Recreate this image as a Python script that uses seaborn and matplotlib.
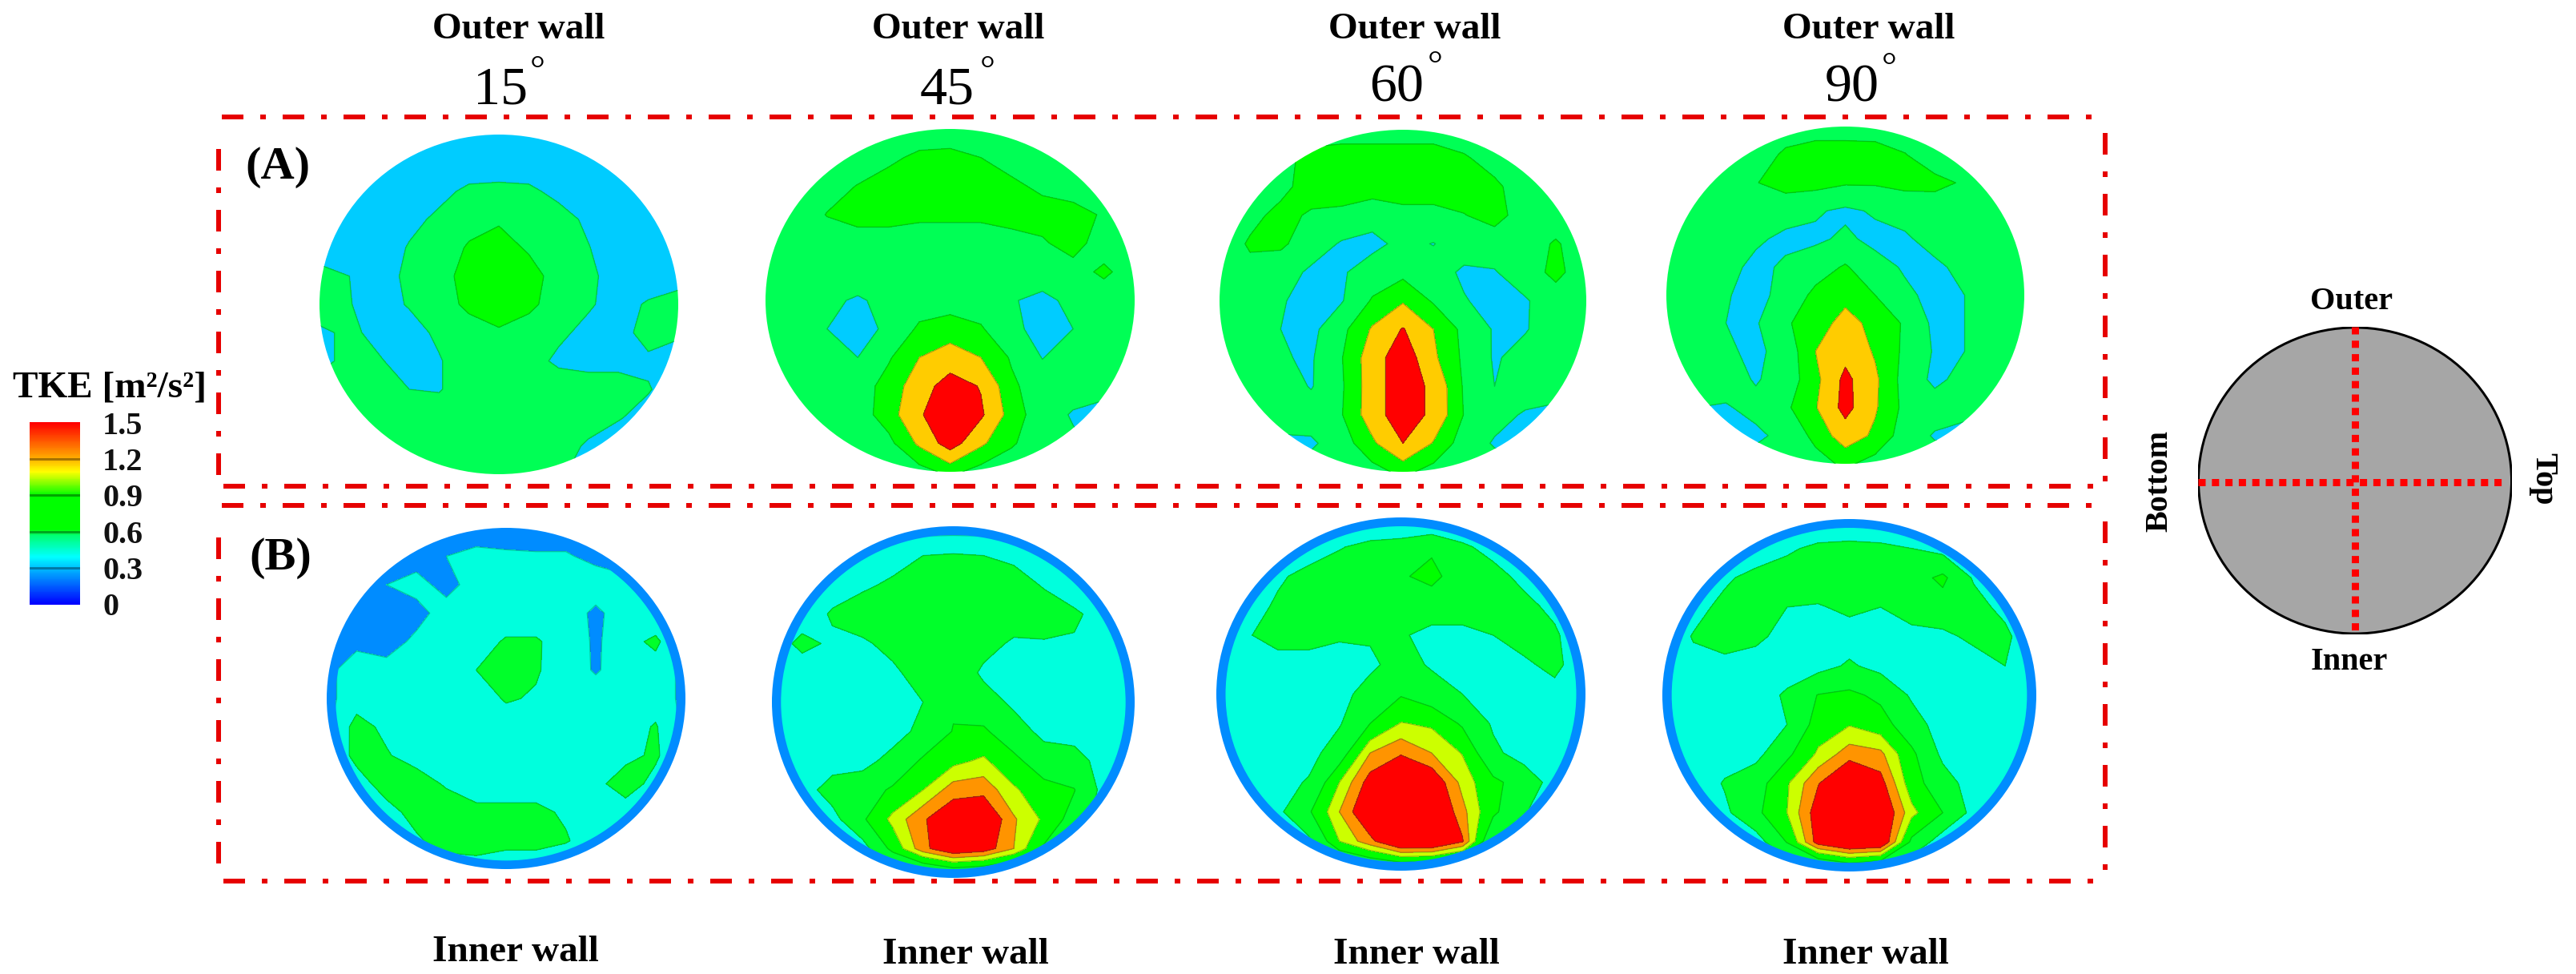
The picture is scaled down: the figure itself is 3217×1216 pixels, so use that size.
import numpy as np
import matplotlib
matplotlib.use("Agg")
import matplotlib.pyplot as plt
from matplotlib.colors import LinearSegmentedColormap
from matplotlib.patches import Ellipse
import seaborn as sns

W, H = 3217, 1216
sns.set_theme(style="white")
plt.rcParams["font.family"] = ["Liberation Serif", "DejaVu Serif"]
plt.rcParams["lines.scale_dashes"] = False

# ---------- data: TKE on a 13x13 grid (top row = top of the section) ----------
A_15 = [
 [.3,.3,.3,.3,.3,.3,.3,.3,.3,.3,.3,.3,.3],
 [.3,.3,.3,.3,.3,.3,.3,.3,.3,.3,.3,.3,.3],
 [.3,.3,.3,.3,.38,.5,.52,.5,.38,.3,.3,.3,.3],
 [.3,.3,.3,.38,.5,.65,.72,.65,.55,.4,.3,.3,.3],
 [.3,.3,.3,.47,.6,.78,.85,.72,.6,.46,.3,.3,.3],
 [.55,.45,.35,.5,.65,.85,.9,.85,.65,.5,.35,.3,.3],
 [.6,.46,.35,.47,.65,.8,.88,.8,.65,.48,.35,.48,.6],
 [.4,.5,.38,.35,.5,.65,.72,.65,.5,.38,.35,.55,.5],
 [.35,.55,.47,.35,.43,.6,.65,.55,.4,.35,.35,.4,.3],
 [.6,.6,.6,.45,.43,.6,.65,.6,.6,.6,.6,.47,.3],
 [.6,.6,.6,.6,.6,.6,.6,.6,.6,.6,.47,.35,.3],
 [.6,.6,.6,.6,.6,.6,.6,.6,.6,.4,.3,.3,.3],
 [.6,.6,.6,.6,.6,.6,.6,.6,.5,.3,.3,.3,.3],
]
A_45 = [
 [.6,.6,.6,.6,.6,.6,.6,.6,.6,.6,.6,.6,.6],
 [.6,.6,.6,.6,.7,.8,.82,.75,.65,.6,.6,.6,.6],
 [.6,.6,.65,.76,.85,.9,.9,.88,.8,.7,.62,.6,.6],
 [.6,.6,.76,.85,.85,.8,.8,.8,.85,.85,.85,.72,.6],
 [.6,.6,.62,.62,.62,.62,.62,.62,.65,.72,.85,.62,.6],
 [.6,.6,.6,.6,.6,.6,.6,.6,.6,.6,.65,.8,.62],
 [.6,.6,.5,.42,.52,.6,.62,.6,.47,.38,.52,.6,.6],
 [.6,.6,.45,.35,.5,.8,.88,.78,.52,.35,.45,.6,.6],
 [.6,.6,.55,.45,.72,1.0,1.12,1.0,.72,.44,.6,.6,.6],
 [.6,.6,.6,.62,.85,1.15,1.45,1.28,.8,.6,.6,.55,.5],
 [.6,.6,.6,.63,.87,1.27,1.5,1.35,.88,.6,.42,.35,.35],
 [.6,.6,.6,.6,.68,1.05,1.45,1.05,.78,.6,.5,.4,.4],
 [.6,.6,.6,.6,.6,.65,.82,.65,.6,.6,.6,.6,.6],
]
A_60 = [
 [.6,.6,.6,.6,.6,.6,.6,.6,.6,.6,.6,.6,.6],
 [.6,.6,.65,.85,.9,.9,.9,.9,.78,.65,.6,.6,.6],
 [.6,.6,.68,.86,.9,.9,.9,.9,.88,.8,.62,.6,.6],
 [.6,.68,.82,.72,.68,.55,.66,.66,.74,.85,.62,.6,.6],
 [.6,.78,.8,.6,.42,.38,.52,.44,.6,.6,.62,.78,.6],
 [.6,.68,.58,.4,.42,.58,.68,.58,.4,.43,.62,.82,.6],
 [.6,.6,.47,.37,.43,.78,.97,.72,.47,.35,.42,.62,.6],
 [.6,.6,.45,.37,.68,1.03,1.32,1.0,.68,.42,.43,.6,.6],
 [.6,.6,.47,.42,.74,1.15,1.5,1.05,.7,.42,.55,.6,.6],
 [.6,.6,.6,.43,.72,1.15,1.5,1.22,.72,.45,.6,.6,.6],
 [.6,.6,.6,.6,.74,1.15,1.5,1.22,.74,.55,.42,.35,.35],
 [.5,.4,.38,.4,.62,.95,1.3,.98,.62,.42,.35,.35,.35],
 [.6,.6,.6,.6,.6,.65,.82,.65,.6,.6,.6,.6,.6],
]
A_90 = [
 [.6,.6,.6,.6,.6,.6,.6,.6,.6,.6,.6,.6,.6],
 [.6,.6,.6,.6,.8,.9,.9,.88,.76,.6,.6,.6,.6],
 [.6,.6,.62,.74,.85,.85,.78,.78,.82,.82,.72,.6,.6],
 [.6,.6,.6,.6,.58,.48,.4,.48,.58,.6,.62,.6,.6],
 [.6,.6,.6,.5,.38,.4,.5,.38,.4,.58,.6,.6,.6],
 [.6,.6,.55,.37,.5,.62,.78,.55,.42,.38,.55,.6,.6],
 [.6,.6,.47,.36,.55,.82,.92,.75,.5,.38,.45,.6,.6],
 [.6,.6,.45,.42,.72,.87,1.1,.92,.72,.38,.45,.6,.6],
 [.6,.6,.5,.38,.58,1.0,1.2,.97,.7,.42,.45,.6,.6],
 [.6,.6,.6,.42,.6,.92,1.38,1.05,.65,.38,.55,.6,.6],
 [.5,.45,.42,.55,.7,.98,1.4,1.03,.68,.6,.5,.45,.45],
 [.4,.4,.38,.38,.55,.82,1.15,.95,.62,.42,.4,.4,.4],
 [.6,.6,.6,.6,.6,.65,.8,.65,.6,.6,.6,.6,.6],
]
B_15 = [
 [.2,.2,.2,.2,.2,.2,.2,.2,.2,.2,.2,.2,.2],
 [.2,.2,.2,.2,.3,.35,.33,.32,.32,.25,.2,.2,.2],
 [.2,.2,.3,.38,.22,.4,.4,.4,.4,.4,.36,.25,.2],
 [.2,.2,.2,.22,.4,.4,.4,.4,.4,.26,.4,.32,.2],
 [.2,.25,.2,.35,.42,.42,.52,.52,.42,.27,.42,.55,.25],
 [.25,.4,.38,.4,.4,.5,.7,.52,.4,.28,.4,.4,.25],
 [.25,.4,.4,.4,.4,.4,.52,.48,.4,.4,.4,.4,.25],
 [.25,.58,.45,.4,.4,.4,.4,.4,.4,.4,.4,.52,.25],
 [.2,.6,.52,.4,.4,.4,.4,.4,.4,.4,.42,.55,.2],
 [.2,.35,.65,.62,.47,.4,.4,.4,.4,.42,.65,.4,.2],
 [.2,.22,.38,.62,.65,.55,.55,.55,.47,.4,.35,.25,.2],
 [.2,.2,.28,.45,.65,.7,.6,.6,.52,.38,.25,.2,.2],
 [.2,.2,.2,.25,.3,.32,.3,.3,.3,.2,.2,.2,.2],
]
B_45 = [
 [.2,.2,.2,.2,.2,.2,.2,.2,.2,.2,.2,.2,.2],
 [.2,.2,.25,.3,.38,.5,.52,.5,.45,.3,.25,.2,.2],
 [.25,.35,.42,.45,.55,.65,.65,.65,.6,.48,.32,.25,.2],
 [.35,.4,.52,.65,.65,.65,.65,.65,.65,.62,.55,.38,.25],
 [.4,.55,.47,.46,.58,.65,.65,.6,.46,.48,.47,.5,.25],
 [.38,.4,.4,.4,.45,.62,.7,.45,.4,.4,.4,.47,.3],
 [.38,.4,.4,.4,.4,.5,.72,.62,.45,.4,.4,.42,.3],
 [.38,.4,.4,.4,.4,.57,.76,.78,.62,.43,.42,.48,.3],
 [.38,.4,.4,.42,.58,.78,.9,.98,.8,.63,.58,.42,.28],
 [.3,.4,.6,.65,.78,.95,1.18,1.2,.98,.82,.76,.42,.25],
 [.25,.35,.42,.72,1.0,1.23,1.4,1.45,1.12,.92,.65,.38,.25],
 [.2,.2,.25,.4,.82,1.2,1.42,1.35,1.1,.72,.35,.2,.2],
 [.2,.2,.2,.2,.25,.3,.4,.35,.3,.25,.2,.2,.2],
]
B_60 = [
 [.2,.2,.2,.2,.2,.2,.2,.2,.2,.2,.2,.2,.2],
 [.2,.2,.25,.33,.48,.58,.62,.72,.55,.4,.3,.2,.2],
 [.2,.28,.45,.6,.65,.65,.73,.8,.65,.6,.42,.25,.2],
 [.25,.35,.55,.65,.65,.65,.65,.65,.65,.65,.58,.42,.2],
 [.3,.48,.6,.6,.53,.53,.53,.42,.42,.5,.62,.55,.25],
 [.3,.4,.4,.4,.4,.45,.6,.47,.4,.4,.45,.58,.3],
 [.3,.4,.4,.4,.42,.6,.73,.62,.5,.4,.4,.4,.3],
 [.3,.4,.4,.4,.48,.75,.96,.92,.72,.47,.4,.4,.3],
 [.3,.4,.4,.42,.62,1.1,1.23,1.1,.94,.55,.4,.4,.3],
 [.3,.35,.42,.52,.95,1.33,1.5,1.4,1.05,.8,.65,.4,.25],
 [.25,.3,.45,.72,1.1,1.45,1.5,1.5,1.15,.8,.52,.35,.25],
 [.2,.2,.3,.45,.95,1.2,1.5,1.5,1.27,.5,.3,.2,.2],
 [.2,.2,.2,.25,.3,.4,.45,.4,.3,.25,.2,.2,.2],
]
B_90 = [
 [.2,.2,.2,.2,.2,.2,.2,.2,.2,.2,.2,.2,.2],
 [.2,.2,.25,.3,.45,.57,.6,.57,.5,.42,.25,.2,.2],
 [.2,.3,.45,.6,.65,.65,.65,.65,.65,.8,.47,.3,.2],
 [.25,.4,.58,.65,.5,.48,.55,.5,.62,.65,.6,.42,.2],
 [.3,.52,.65,.55,.42,.4,.4,.4,.42,.45,.55,.57,.25],
 [.3,.42,.4,.4,.4,.42,.53,.43,.4,.4,.4,.5,.3],
 [.3,.4,.4,.4,.53,.76,.8,.7,.47,.4,.4,.4,.3],
 [.3,.4,.4,.4,.5,.85,.94,.85,.6,.4,.4,.4,.3],
 [.3,.4,.4,.43,.7,.98,1.18,1.14,.8,.45,.4,.4,.3],
 [.3,.35,.52,.65,.93,1.24,1.5,1.32,.85,.6,.4,.3,.25],
 [.25,.3,.45,.7,.95,1.35,1.5,1.45,1.0,.75,.42,.3,.25],
 [.2,.2,.25,.38,.76,1.33,1.5,1.45,.7,.36,.25,.2,.2],
 [.2,.2,.2,.22,.25,.3,.45,.35,.25,.2,.2,.2,.2],
]
angles = ["15", "45", "60", "90"]
tick_values = [1.5, 1.2, 0.9, 0.6, 0.3, 0]
tick_labels = ["1.5", "1.2", "0.9", "0.6", "0.3", "0"]

# ---------- styling / layout (pixels of the 3217x1216 canvas) ----------
A_LEVELS = [0, .45, .75, 1.0, 1.3, 3]
A_COLORS = ["#00CCFF", "#00FF55", "#00FF00", "#FFCC00", "#FF0000"]
B_LEVELS = [0, .3, .5, .75, .95, 1.1, 1.25, 3]
B_COLORS = ["#008CFF", "#00FFDD", "#00FF2A", "#00FF00", "#CCFF00", "#FF9400", "#FF0000"]
A_BOXES = [(399, 847, 168, 592), (956, 1417, 161, 589), (1523, 1981, 162, 589), (2081, 2528, 158, 579)]
B_BOXES = [(408, 856, 659, 1085), (964, 1417, 657, 1096), (1519, 1980, 646, 1087), (2076, 2543, 648, 1088)]
RING = 0.95
PX = 0.72  # points per pixel at dpi 100

fig = plt.figure(figsize=(W / 100, H / 100), dpi=100, facecolor="white")
over = fig.add_axes([0, 0, 1, 1], zorder=5)
over.set_xlim(0, W)
over.set_ylim(H, 0)
over.axis("off")
over.patch.set_alpha(0)


def panel(box, grid, levels, colors, ring=False):
    x0, x1, y0, y1 = box
    ax = fig.add_axes([x0 / W, 1 - y1 / H, (x1 - x0) / W, (y1 - y0) / H])
    ax.set_xlim(-1, 1)
    ax.set_ylim(-1, 1)
    ax.axis("off")
    z = np.array(grid, dtype=float)
    xs = np.linspace(-1, 1, z.shape[1])
    ys = np.linspace(1, -1, z.shape[0])
    scale = 1.0
    if ring:
        ax.add_patch(Ellipse((0, 0), 2, 2, fc=colors[0], ec="none"))
        scale = RING
    clip = Ellipse((0, 0), 2 * scale, 2 * scale, transform=ax.transData, fc="none", ec="none")
    ax.add_patch(clip)
    cf = ax.contourf(xs, ys, z, levels=levels, colors=colors)
    cf.set_clip_path(clip)
    cl = ax.contour(xs, ys, z, levels=levels[1:-1], colors="#006030", linewidths=1.0, alpha=0.35)
    cl.set_clip_path(clip)
    return ax


for box, grid in zip(A_BOXES, [A_15, A_45, A_60, A_90]):
    panel(box, grid, A_LEVELS, A_COLORS)
for box, grid in zip(B_BOXES, [B_15, B_45, B_60, B_90]):
    panel(box, grid, B_LEVELS, B_COLORS, ring=True)

# dash-dot frames
frame_style = dict(color="#E60000", lw=6 * PX, ls=(0, (27 * PX, 21 * PX, 7 * PX, 21 * PX)),
                   dash_capstyle="butt", solid_capstyle="butt")
for top, bottom in [(146, 607), (631, 1100)]:
    over.plot([277, 2632], [top, top], **frame_style)
    over.plot([279, 2632], [bottom, bottom], **frame_style)
    over.plot([273, 273], [top + 40, bottom - 5], **frame_style)
    over.plot([2629, 2629], [top + 20, bottom - 5], **frame_style)

# top and bottom labels
bold = dict(fontweight="bold", ha="center", va="center", color="black")
for x in [648, 1197, 1767, 2334]:
    over.text(x, 37, "Outer wall", fontsize=34, **bold)
for x, y in [(644, 1189), (1206, 1192), (1769, 1192), (2330, 1192)]:
    over.text(x, y, "Inner wall", fontsize=34, **bold)
deg_pos = [(625, 113, 671, 90), (1183, 113, 1233, 90), (1744, 110, 1792, 84), (2313, 110, 2359, 86)]
for label, (x, y, dx, dy) in zip(angles, deg_pos):
    over.text(x, y, label, fontsize=49, ha="center", va="center", color="black")
    over.text(dx, dy, "°", fontsize=34, ha="center", va="center", color="black")
over.text(347, 209, "(A)", fontsize=42, **bold)
over.text(350, 697, "(B)", fontsize=42, **bold)

# colour scale
bar_cmap = LinearSegmentedColormap.from_list("tke", [
    (0.00, "#0000FF"), (0.19, "#00B4FF"), (0.20, "#00C0FF"), (0.26, "#00FFFF"),
    (0.38, "#00FF70"), (0.41, "#00FF00"), (0.60, "#00FF00"), (0.73, "#FFFF00"),
    (0.80, "#FFB000"), (1.00, "#FF0000")])
N = 228
cax = fig.add_axes([37 / W, 1 - 755 / H, 63 / W, 228 / H])
bar_vals = np.linspace(1.5, 0, N)[:, None]
sns.heatmap(bar_vals, cmap=bar_cmap, vmin=0, vmax=1.5, cbar=False, ax=cax,
            xticklabels=False, yticklabels=False)
for v in tick_values[1:-1]:
    cax.axhline((1.5 - v) / 1.5 * N, color="black", alpha=0.35, lw=3 * PX)
over.text(137, 484, "TKE [m²/s²]", fontsize=34, **bold)
for lab, v in zip(tick_labels, tick_values):
    y = 532 + (1.5 - v) / 1.5 * 227
    over.text(128, y, lab, fontsize=29, fontweight="bold", ha="left", va="center", color="#111111")

# schematic of the section
sch = fig.add_axes([2745 / W, 1 - 792 / H, 392 / W, 384 / H])
sch.set_xlim(-1, 1)
sch.set_ylim(-1, 1)
sch.axis("off")
sch.add_patch(Ellipse((0, 0), 1.995, 1.99, fc="#A6A6A6", ec="black", lw=3 * PX))
dots = dict(color="#FF0000", lw=9 * PX, ls=(0, (9 * PX, 7.8 * PX)), dash_capstyle="butt")
over.plot([2941, 2941], [408, 792], **dots)
over.plot([2745, 3127], [602, 602], **dots)
over.text(2937, 376, "Outer", fontsize=29, **bold)
over.text(2934, 827, "Inner", fontsize=29, **bold)
over.text(2697, 600, "Bottom", fontsize=29, rotation=90, **bold)
over.text(3176, 598, "Top", fontsize=29, rotation=270, **bold)

fig.savefig("out.png", dpi=100, facecolor="white")
